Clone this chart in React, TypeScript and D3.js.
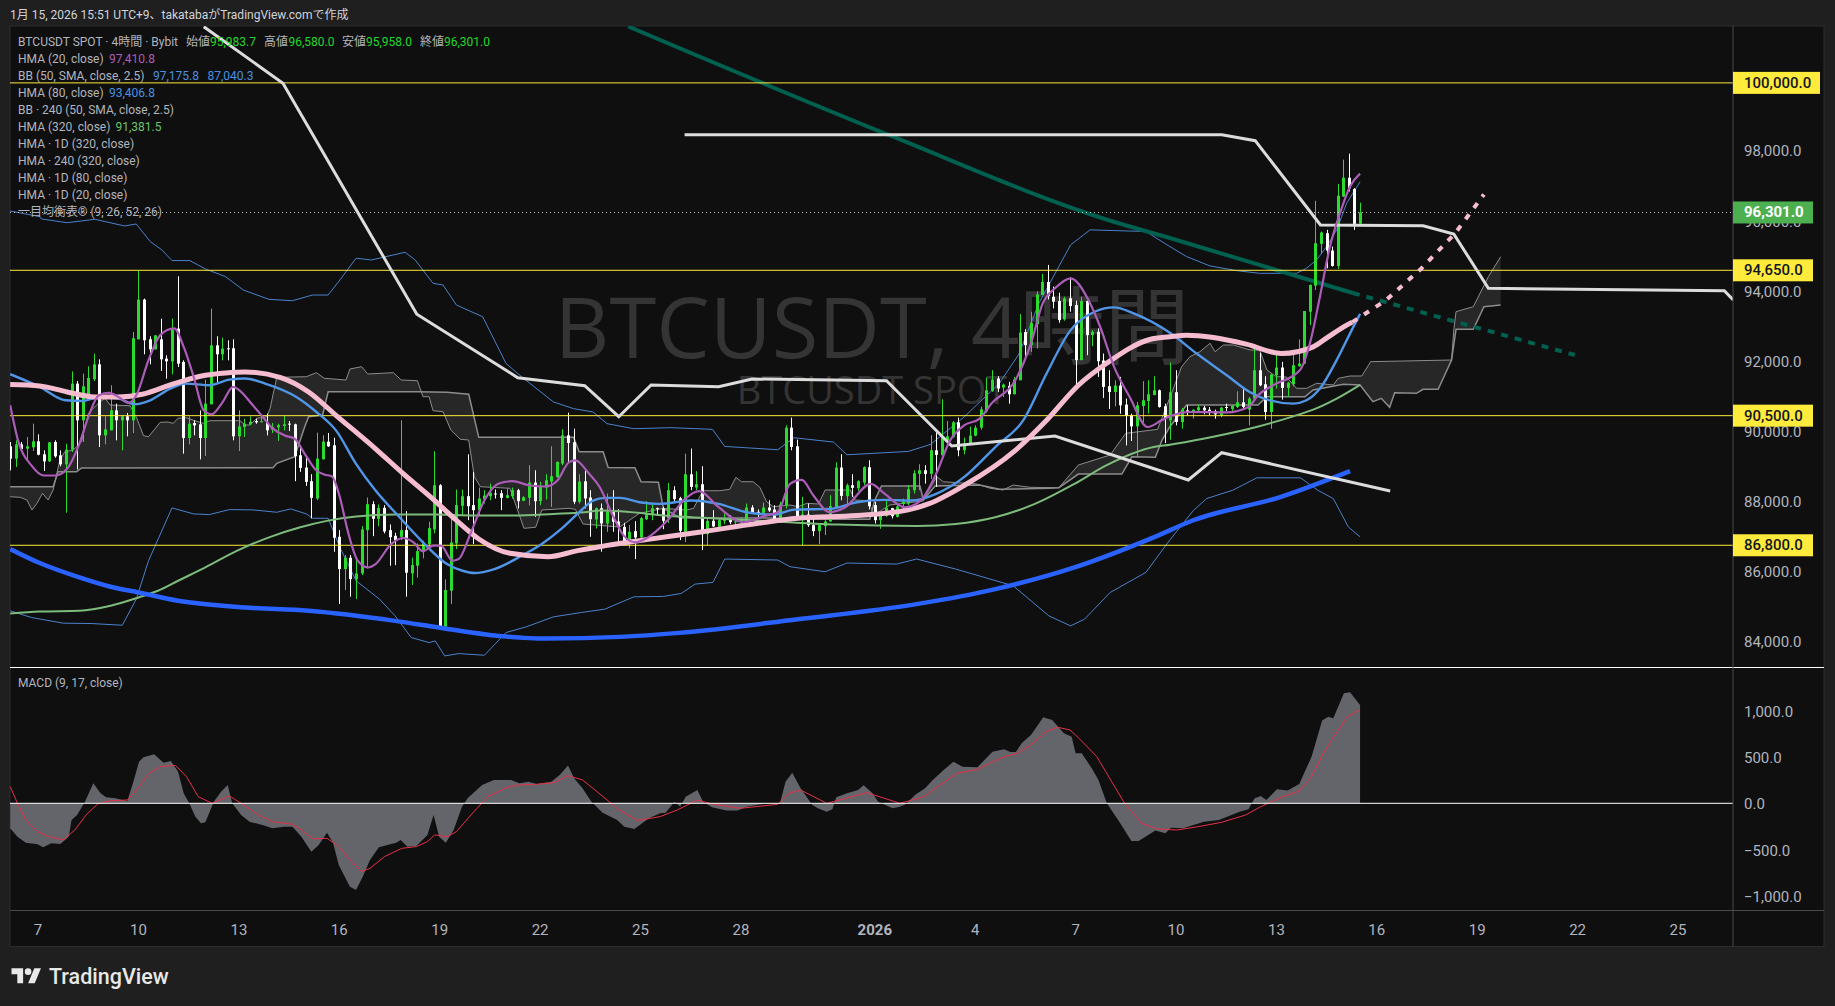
import React from 'react';
import * as d3 from 'd3';

type Pt = [number, number];

// 4h candles, Dec 6 2025 onwards: open, high, low, close
const candles: number[][] = [
  [89624,89748,88939,89272],[89272,89796,89034,89681],[89681,89748,89462,89548],[89558,89891,89224,89624],[89596,90272,89491,89767],
  [89767,89967,89367,89386],[89396,89510,88920,89196],[89196,89748,89177,89738],[89748,89796,89300,89339],[89367,89510,89053,89110],
  [89110,89700,87730,89529],[89529,91766,89462,91414],[91414,91490,88967,90367],[90367,91700,89748,91338],[91033,91909,90986,91576],
  [91538,92271,91490,91966],[91966,92109,89605,89938],[89938,90481,89681,90110],[90081,91366,90081,90652],[90652,90843,89796,90367],
  [90367,90481,89510,90481],[90481,90576,89910,90367],[90367,92890,90005,92709],[92680,94632,92680,93813],[93813,93842,92252,92652],
  [92680,92766,91966,92394],[92394,92794,92385,92794],[92680,93270,91776,92109],[92128,92223,91557,92052],[92052,93270,91680,92956],
  [92985,94479,91890,91985],[92033,92080,89415,89862],[89862,90481,89681,90272],[90291,90367,89938,90224],[90252,90652,89253,89862],
  [89862,91528,89348,90843],[90824,93556,90824,92509],[92509,92766,91461,92252],[92252,92728,92080,92414],[92423,92652,92080,92404],
  [92423,92680,89796,89910],[89910,90652,89491,90195],[90176,90414,89891,90272],[90252,90481,90224,90329],[90348,90414,90272,90310],
  [90319,90538,90319,90338],[90300,90557,89938,90081],[90101,90291,90006,90177],[90168,90272,89778,90225],[90206,90490,90082,90253],
  [90272,90348,90063,90244],[90253,90272,88629,89341],[89370,89655,88895,89009],[89018,89370,88495,88610],[88629,88828,87565,88154],
  [88135,90016,88087,89275],[89256,89940,89246,89759],[89759,90006,89607,89626],[89655,89873,86615,87014],[87042,87232,85123,86121],
  [86121,86520,85522,86444],[86444,86520,85332,85835],[85835,86472,85266,85997],[85997,87346,85950,87251],[87232,88163,86140,87973],
  [87973,88058,87061,87555],[87555,87964,87346,87869],[87869,87945,87137,87194],[87232,87394,86215,87032],[87070,87156,86234,86947],
  [87042,90367,86947,87232],[87232,87773,85332,86016],[85997,86444,85665,86235],[86216,86852,85874,86634],[86662,86928,86425,86852],
  [86833,87470,86662,87289],[87251,89484,87137,88514],[88514,88543,84477,84477],[84477,85826,84477,85522],[85503,87612,85123,86880],
  [86852,88391,86691,87945],[87925,88391,87660,88201],[88201,89398,87517,87916],[87945,88895,86833,87802],[87802,88448,87660,88135],
  [88116,88372,87992,88220],[88201,88562,88087,88296],[88277,88391,88135,88258],[88286,88372,87802,88154],[88154,88420,88135,88230],
  [88201,88448,88135,88372],[88372,88410,87850,88058],[88068,88201,88058,88173],[88154,89085,87940,88590],[88590,88942,87612,88058],
  [88058,88610,87945,88467],[88448,88828,88106,88657],[88619,89626,87897,88771],[88743,89198,88733,89179],[89132,90110,89085,89940],
  [89940,90585,89179,89721],[89740,90130,87973,88040],[88040,88828,87992,88619],[88629,88942,87850,88135],[88163,88372,87042,87545],
  [87536,87878,87279,87859],[87859,87992,86615,87422],[87422,88277,87185,87755],[87745,88372,87185,87470],[87479,87830,86852,87327],
  [87327,87441,86805,86900],[86852,87375,86710,87185],[87204,87489,86405,87023],[87023,87612,86900,87574],[87545,88058,87517,87688],
  [87660,87973,87517,87859],[87859,87878,87650,87840],[87850,87897,87260,87498],[87574,88581,87441,88372],[88372,88486,88021,88116],
  [88144,88182,86947,87213],[87185,89417,86890,88828],[88828,89560,88372,88467],[88448,88914,88372,88543],[88543,89056,86662,87118],
  [87118,87593,86805,87498],[87498,87802,87327,87337],[87327,87565,87251,87517],[87498,87707,87403,87517],[87545,87660,87403,87460],
  [87460,87498,87308,87479],[87479,87593,87460,87517],[87517,87992,87498,87878],[87878,87945,87707,87726],[87755,87821,87612,87726],
  [87726,88021,87707,87878],[87878,88087,87755,87793],[87821,87945,87470,87498],[87498,88040,87441,87964],[87945,90225,87850,90158],
  [90158,90443,89512,89607],[89626,89816,87546,87565],[87546,88182,86795,87679],[87679,87992,87327,87375],[87375,87593,87061,87204],
  [87204,87403,86833,87375],[87346,87631,87090,87479],[87479,88230,87470,87916],[87878,89170,87850,89018],[89018,89398,88087,88210],
  [88201,88562,87945,88514],[88514,88828,88182,88438],[88429,88657,88353,88629],[88590,89056,88514,89028],[89028,89227,87821,87916],
  [87945,88040,87422,87517],[87517,87707,87270,87660],[87640,88087,87612,87869],[87859,87869,87565,87631],[87612,87992,87593,87907],
  [87983,88135,87802,88040],[87992,88514,87945,88400],[88372,88942,88277,88856],[88838,89113,88372,88942],[88942,89085,88562,88838],
  [88838,89940,88695,89512],[89512,90025,88467,89379],[89370,90967,89370,89911],[89797,90348,89731,89911],[89893,90348,89873,90310],
  [90310,90443,89341,89512],[89512,89873,89398,89702],[89664,90187,89664,89930],[89930,90225,89911,90158],[90158,90757,90101,90682],
  [90624,91588,90586,91225],[91206,91797,91177,91530],[91559,91626,91177,91273],[91301,91416,91034,91387],[91349,91464,90843,91111],
  [91111,91607,91111,91530],[91511,93400,91511,92875],[92885,92971,92179,92513],[92513,93467,92322,93152],[93114,94049,92418,93963],
  [93944,94545,93944,94316],[94316,94803,93820,93915],[93896,94182,93562,93753],[93772,94011,93152,93228],[93248,93896,93209,93849],
  [93849,94450,93467,93629],[93658,93782,91320,92084],[92084,93896,92084,93772],[93772,93782,92227,92799],[92799,92942,92484,92895],
  [92895,92990,91607,92055],[92074,92274,91006,91320],[91340,91797,90691,91177],[91177,91511,90767,91359],[91359,91607,90557,90796],
  [90815,90987,89651,90490],[90510,90557,89775,90195],[90195,90891,89317,90796],[90777,91483,90319,90939],[90920,91511,90557,91111],
  [91091,91626,91082,91225],[91225,91244,90729,90748],[90767,90843,89718,90414],[90366,92017,89813,91168],[91168,91797,90223,90319],
  [90319,90719,90128,90672],[90653,90796,90510,90624],[90624,90672,90414,90672],[90653,90815,90634,90739],[90729,90777,90538,90653],
  [90672,90748,90510,90634],[90634,90672,90414,90538],[90510,90748,90462,90729],[90748,90843,90634,90719],[90691,90796,90634,90777],
  [90748,91196,90719,90882],[90882,91273,90672,90748],[90672,91034,90223,90987],[90987,92542,90939,91797],[91797,92294,91340,91368],
  [91397,91626,90385,90605],[90605,91702,90128,91673],[91654,92351,91273,91874],[91874,92036,90958,91292],[91292,91464,91034,91435],
  [91397,92274,91340,91941],[91912,92675,91893,91988],[91988,93486,91970,93486],[93467,94249,93085,94230],[94211,96634,94087,95423],
  [95404,95757,95136,95728],[95709,95804,94707,95213],[95213,95327,94755,94774],[94774,97111,94688,96777],[96758,97808,96739,97292],
  [97292,97979,96901,96987],[96968,96997,95804,95976],[95983.7,96580,95958,96301],
];

// indicator readings: [bar, value]
const hma20: Pt[] = [[0,90796],[1.4,89794],[3.8,89079],[6,88792],[8.1,88792],[10.2,88983],[12.4,89699],[14.1,90510],[15.9,91082],[17.7,91149],[19.4,91034],[21.2,90863],[22.6,91082],[24.8,92084],[26.9,92799],[29.4,92990],[31.1,92465],[32.9,91607],[34.7,90653],[36.1,90538],[37.9,90843],[40,91320],[41.1,91225],[43.5,90796],[45.3,90462],[47.1,90128],[49.2,89937],[51,89842],[52.8,89412],[54.9,88935],[56.3,88821],[57.7,88764],[59.1,88172],[60.5,87218],[62.3,86360],[64.1,86169],[65.5,86264],[68.3,86837],[70.5,87008],[72.3,86884],[74,86627],[75.8,86789],[77.2,86789],[79.3,86360],[80.4,86407],[82.5,87123],[85,88077],[87.5,88554],[90,88630],[93.2,88506],[96,88478],[98.1,88649],[100.2,89174],[101.3,89222],[103.8,88840],[105.7,88458],[107.9,87695],[110,87075],[112.1,86884],[113.9,86980],[117.8,87504],[121,88125],[123.5,88344],[127,87886],[131.3,87457],[135.5,87648],[137.6,87743],[139.8,88554],[141.9,88668],[144,88220],[146.9,87743],[149.7,87886],[154.3,88554],[156.8,88268],[160.3,87886],[163.2,88077],[166,88840],[168.5,89794],[171,90223],[173.8,90414],[175.9,90843],[180.2,91511],[183,92561],[185.1,93705],[187.3,94135],[190.1,94421],[193.3,93801],[195.4,93038],[197.9,91893],[200.7,91034],[203.9,90176],[206.4,90366],[207.9,90481],[211.5,90605],[218.1,90595],[222,90748],[223.7,91082],[226.4,91368],[231.2,91797],[233,92561],[234.8,93896],[236.6,95327],[238.4,96281],[240.2,97044],[242,97411]];
const hma80: Pt[] = [[0,91683],[5.3,91320],[9.9,90939],[13.1,90920],[15.9,91034],[19.4,90987],[22.3,90824],[25.1,90939],[28.7,91273],[31.5,91416],[35.7,91368],[39.3,91530],[42.1,91559],[45.7,91416],[51.3,91034],[54.9,90605],[58.4,90080],[62,89126],[65.5,88363],[69.8,87600],[74,86884],[78.3,86264],[81.1,86073],[83.2,86007],[86.8,86121],[91.7,86503],[95.3,86837],[98.8,87266],[101.7,87695],[104.5,88077],[106.6,88153],[109.3,88153],[112.8,88029],[116.4,87981],[122,88077],[127,87981],[132,87743],[136.9,87676],[140.5,87819],[146.9,87838],[151.8,88029],[156.8,88096],[161.7,88077],[166,88268],[171,88745],[176.6,89603],[181.6,90366],[185.8,91702],[190.1,92942],[194.4,93467],[197.9,93591],[201.4,93419],[207.9,92866],[212.7,92274],[218.1,91654],[222.2,91177],[225.8,90939],[230,90843],[232.4,90939],[234.8,91273],[237.8,92084],[240.5,92942],[242,93407]];
const hma320: Pt[] = [[0,84852],[5.3,84910],[12.4,84929],[18,85072],[23,85310],[26.5,85501],[30.1,85787],[35,86169],[40.7,86646],[46.4,87027],[52,87314],[57,87504],[62,87619],[69,87676],[76.1,87676],[83.2,87648],[90.3,87648],[97.4,87695],[103,87743],[105.7,87791],[119.9,87619],[134.1,87504],[148.3,87390],[162.5,87352],[169.5,87409],[176.6,87600],[183.7,87981],[190.8,88554],[196.5,89079],[205,89603],[207.9,89670],[213.9,89842],[223.4,90176],[230,90481],[233.6,90672],[237.8,90987],[242,91381.5]];
const hmaPink: Pt[] = [[0,91387],[5.3,91349],[10.2,91177],[15.2,91034],[19.4,91034],[23.7,91111],[29.4,91416],[35,91654],[38.6,91721],[42.1,91750],[48.5,91588],[53.5,91177],[58.4,90510],[65.5,89555],[70.5,88840],[76.1,88077],[79.7,87552],[84,86980],[89.6,86570],[96.4,86474],[101.7,86646],[105.7,86760],[112.8,86932],[123.5,87171],[134.1,87428],[141.2,87571],[151.8,87648],[161,87810],[164.6,87981],[171,88506],[180.2,89508],[185.8,90366],[191.5,91368],[196.5,91988],[204.3,92675],[207.9,92751],[210.9,92799],[215.7,92732],[221.6,92542],[227.9,92274],[233.6,92465],[236.3,92751],[239.6,93085],[240.6,93170]];
const hmaPinkProjected: Pt[] = [[240.6,93170],[246.6,93791],[252.9,94688],[259.1,95718],[264.2,96815]];
const hmaRoyal: Pt[] = [[0,86694],[5.3,86293],[12.4,85883],[18,85616],[23,85453],[30.1,85215],[42.1,85024],[53.5,84929],[69,84642],[77.6,84433],[88.9,84194],[96,84137],[109.3,84185],[119.9,84299],[141.2,84690],[162.5,85120],[176.6,85549],[190.8,86169],[205,87027],[212.1,87514],[227.8,88182],[240.2,88916]];
const hmaTeal: Pt[] = [[110.8,101610],[157.5,98513],[196.8,96086],[207.9,95572],[240.7,94002]];
const hmaTealProjected: Pt[] = [[240.7,94002],[280.5,92232]];
const dailyHmaA: Pt[] = [[34.7,101605],[48.9,99989],[72.9,93394],[91,91584],[103,91355],[109.1,90470],[114.9,91375],[127,91327],[133,91547],[157.1,91498],[168.8,89634],[187.3,89919],[211.2,88663],[217.2,89443],[247.4,88349]];
const dailyHmaB: Pt[] = [[120.9,98521],[217.2,98521],[223.2,98350],[234.9,95943],[253.3,95923],[258.8,95686],[265,94136],[307.3,94068],[308.9,93802]];
const bbUpper: Pt[] = [[0,96343],[5.3,96180],[5.6,96115],[10.2,96009],[15.2,96106],[20.5,95915],[22.6,95972],[25.1,95470],[27.2,95232],[29,94927],[32.2,94927],[35,94688],[38.6,94469],[41.8,94087],[46.4,93820],[50.6,93782],[54.2,93944],[57,93944],[59.1,94373],[62,94993],[64.8,94946],[70.8,95165],[72.6,94946],[75.8,94278],[77.6,94230],[80,93658],[84.7,93324],[88.9,91988],[91.7,91607],[97.4,90891],[101,90700],[104.5,90605],[107,90271],[111.8,90128],[118.5,90157],[125.9,90109],[128.1,89622],[137.6,89527],[140.5,89870],[147.6,89746],[150,89384],[161,89479],[165,89680],[171,90462],[177.3,91416],[180.9,92274],[184.4,93705],[190.1,95375],[193.6,95804],[203.6,95757],[207.9,95327],[210.9,95041],[215.1,94774],[219.9,94640],[224,94564],[230.6,94564],[232.4,94707],[234.2,94946],[236,95327],[237.8,95804],[239.6,96567],[242,97176]];
const bbLower: Pt[] = [[0,84929],[3.8,84738],[9.5,84576],[14.5,84566],[20.1,84518],[22.6,85263],[24.8,86360],[29,87867],[32.9,87695],[35.7,87676],[39.3,87819],[43.5,87810],[47.8,87743],[50.3,87838],[53.1,87695],[54.2,87571],[57,87571],[59.1,86741],[62,85787],[66.2,85263],[69,84786],[71.9,84166],[75.1,84022],[76.2,84070],[77.9,83641],[80.4,83708],[85,83660],[88.9,84309],[92.5,84471],[97.4,84757],[102.4,84881],[106.6,84976],[111.8,85329],[117.1,85339],[120.3,85425],[122.8,85692],[126,85740],[128.1,86407],[137.6,86379],[139.8,86188],[146.1,86045],[150,86293],[158.9,86264],[162.5,86407],[169.5,86121],[179.8,85644],[186.2,84786],[190.1,84499],[192.6,84690],[197.2,85453],[203.6,86026],[207.8,86932],[212.1,87791],[214.5,88134],[219.2,88373],[223.5,88726],[231.3,88726],[234.4,88373],[237.2,88134],[239.9,87323],[242,87040]];

// ichimoku cloud edges
const spanA: Pt[] = [[0,88186],[1.8,88169],[3,88092],[3.9,87807],[4.8,87998],[5.8,88283],[6.8,88092],[7.7,88378],[8.9,89234],[9.8,89471],[11.3,89520],[12.8,89757],[14,90567],[15.8,90853],[17,90996],[17.9,90804],[21.5,90784],[22.7,90425],[23.9,89928],[24.8,89899],[26.9,90310],[28.3,90319],[29.2,90282],[30.1,90425],[31.6,90442],[33.1,90356],[34.6,90282],[35.8,90356],[41.2,90356],[42.1,90234],[43,90234],[44.2,90425],[46,90470],[46.6,90710],[47.1,91090],[47.8,91595],[53.1,91612],[54.9,91727],[56.3,91567],[60.2,91518],[60.9,91832],[63,91898],[64.1,91689],[68.7,91727],[70.1,91518],[73,91498],[74,91041],[75.1,91041],[75.8,90642],[77.6,90613],[79,90090],[80.7,89825],[82.2,89805],[83.2,88757],[84.3,88472],[89.6,88426],[92.1,87284],[94.2,87313],[95.3,87807],[100.2,87855],[101.3,87827],[102.7,87407],[109.3,87321],[112.8,87712],[115.7,87807],[117.1,87855],[121.3,87807],[122.5,87855],[124.2,88358],[127.2,88358],[129,88398],[130.1,88740],[131.1,88614],[133.2,88614],[134.4,88454],[135.6,88043],[136.8,87901],[139.8,87949],[141.3,87901],[142.8,87998],[144.9,87978],[146.1,88378],[150.6,88378],[151.4,88092],[153.8,88072],[154.9,87664],[157.7,87950],[163.6,88064],[166.1,88757],[167.3,88614],[173.3,88549],[175.7,88426],[178,88378],[179.8,88520],[182.8,88455],[188,88443],[191.5,89091],[197.2,89377],[200,89996],[205.7,90110],[208.2,91138],[210,91898],[211.5,92183],[213.3,92326],[215.1,92566],[216,92326],[217.5,92517],[219.3,92517],[222.3,92374],[224,92374],[225.3,91804],[227,91612],[228.8,91604],[230.6,91281],[232.4,91281],[234.2,91424],[237.2,91375],[238.1,91567],[240.2,91632],[242.3,91632],[243.9,92041],[258.4,92089],[258.8,92945],[259.2,93468],[262.3,93611],[265,94467],[267.2,95038]];
const spanB: Pt[] = [[0,88472],[7.7,88472],[8.6,88900],[11.9,88900],[12.8,89006],[47.1,89014],[47.8,89140],[51,89328],[52.8,90185],[53.5,90470],[56,90519],[57,91184],[73.3,91184],[78.3,91167],[82.2,91110],[84,89882],[101,89882],[102,89471],[106.3,89471],[107.2,89020],[112,89014],[113.1,88614],[116.2,88597],[117.1,87855],[120.1,87578],[136.2,87578],[143.1,87541],[154.1,87541],[155,88092],[156.2,88492],[163.1,88492],[163.7,88092],[165.8,88492],[173.8,88520],[177.4,88398],[186.4,88426],[188,88443],[191.5,88834],[199.3,88834],[201.1,89328],[205.3,89311],[206.5,89805],[207.9,90185],[210.9,90804],[223.7,90804],[225.3,91041],[232.1,91041],[233.6,91233],[239,91395],[242,91375],[244.3,90899],[245.8,90996],[247.3,90739],[248.2,91155],[252.1,91139],[253.3,91253],[256,91253],[258.4,92089],[259.2,92966],[262.3,92966],[264.2,93611],[267.2,93659]];

const macdArea: Pt[] = [[0,-270],[1.3,-360],[2.8,-425],[4.9,-443],[5.9,-475],[7.4,-432],[9,-439],[10.5,-360],[11,-180],[12,-126],[13.4,18],[14.9,216],[16.2,108],[17.2,65],[18.8,54],[21,25],[22,216],[23.1,450],[23.9,497],[25.8,529],[27.5,439],[28.8,457],[30.1,342],[31.1,108],[32.1,0],[33.2,-144],[34.2,-216],[35,-205],[36.5,18],[37.8,126],[39,198],[39.8,0],[41.4,-126],[42.9,-198],[45.5,-241],[47,-270],[49.1,-252],[50.6,-252],[52.2,-360],[54,-522],[55.3,-450],[56.8,-317],[57.9,-432],[58.9,-666],[60.9,-900],[62,-936],[63.2,-792],[64.5,-612],[66.1,-475],[69.2,-425],[70,-396],[71.2,-468],[72.8,-461],[74.8,-342],[75.9,-126],[76.9,-360],[78.1,-425],[79.5,-288],[81,-36],[82,54],[84.6,198],[86.7,252],[89.8,252],[91.3,216],[92.9,234],[94.4,209],[97,234],[98.5,306],[100,407],[101.1,270],[102.6,162],[104.2,18],[106.2,-101],[108.8,-180],[110.1,-252],[111.9,-277],[114.5,-162],[116.5,-108],[117.5,-101],[119.1,18],[120.1,-36],[121.1,72],[123.2,144],[124.2,18],[125.8,-43],[128.4,-79],[130.4,-79],[132,-36],[135,-7],[138,0],[139,234],[140.2,331],[141.7,162],[143.8,-18],[144.8,-54],[146.4,-90],[147.4,-65],[148.1,65],[150,108],[152,144],[153,194],[154.6,108],[155.6,18],[158.2,-54],[159.5,-36],[160.6,-7],[162.2,90],[164,162],[165.4,252],[167,342],[169.1,450],[170.7,396],[173.4,389],[176.1,558],[178.2,583],[179.3,554],[180.3,554],[181.4,655],[183,738],[185.2,929],[186.8,900],[188.9,756],[190.3,720],[191,540],[192.1,540],[193.9,378],[195.1,252],[196.6,0],[199,-216],[201,-407],[202.3,-407],[205.3,-295],[207.1,-324],[208.1,-263],[210.3,-270],[214,-198],[216.7,-180],[220.4,-90],[222,-65],[223.1,54],[224.2,79],[225.2,36],[227.1,151],[229,137],[231.1,209],[233.3,504],[235.2,893],[236.3,936],[237.2,918],[239.1,1188],[240.2,1199],[242,1062]];
const macdSignal: Pt[] = [[0,180],[1.3,0],[2.8,-180],[4.9,-306],[6.9,-360],[9.5,-396],[11.6,-288],[13.6,-126],[15.7,-7],[17.7,25],[21,36],[22.9,162],[24.9,324],[27,396],[29.6,410],[31.6,288],[33.7,72],[36.2,0],[39.3,79],[41.4,0],[44.5,-126],[47,-198],[50.6,-227],[52.2,-288],[54.3,-385],[56.8,-378],[58.9,-468],[60.9,-612],[63,-738],[64.5,-702],[67.1,-576],[70.2,-486],[72.8,-468],[74.8,-414],[76.1,-342],[78.4,-360],[80,-306],[82.6,-126],[85.6,72],[88.7,162],[90.8,198],[94.4,205],[97.5,223],[100,299],[102.6,252],[105.2,126],[108.8,-54],[112.4,-187],[116.5,-144],[119.6,-72],[123.2,36],[125.8,-7],[130.9,-54],[137.6,-11],[139.7,108],[141.7,144],[146.4,0],[153.6,115],[159.5,0],[163.8,72],[169.7,324],[173.4,367],[178.2,504],[180.3,533],[183,630],[185.7,774],[187.8,821],[190,792],[191.6,702],[194.8,504],[199.6,18],[202.8,-216],[205.5,-277],[209.2,-288],[213,-252],[217.2,-205],[221.5,-126],[224.2,-36],[227.9,65],[231.1,133],[233.3,288],[235.4,540],[237.5,738],[239.7,936],[242,1008]];

const priceTicks = [98000, 96000, 94000, 92000, 90000, 88000, 86000, 84000];
const levelLines = [100000, 94650, 90500, 86800];
const lastPrice = 96301;
const macdTicks = [1000, 500, 0, -500, -1000];
const timeBars = [5, 23, 41, 59, 77, 95, 113, 131, 155, 173, 191, 209, 227, 245, 263, 281, 299];
const timeLabels = ['7', '10', '13', '16', '19', '22', '25', '28', '2026', '4', '7', '10', '13', '16', '19', '22', '25'];

const FONT = 'Roboto, "Noto Sans CJK JP", sans-serif';
const LEFT = 10;
const AXIS_X = 1733;
const RIGHT = 1824;
const TOP = 26;
const PANE_BOTTOM = 667.5;
const TIME_TOP = 910.5;
const BOTTOM = 946.5;
const GREY = '#b2b5be';
const UP = '#2bdc2f';
const LEGEND_GREEN = '#22d82a';
const fmt = d3.format(',.1f');

const x = d3.scaleLinear().domain([0, 309]).range([10.2, 10.2 + 309 * 5.578]);
const y = d3.scaleLinear().domain([83325, 101624]).range([667, TOP]);
const yMacd = d3.scaleLinear().domain([-1000, 1000]).range([895.9, 710.7]);

const priceLine = d3.line<Pt>().x((d) => x(d[0])).y((d) => y(d[1]));
const smoothLine = d3.line<Pt>().x((d) => x(d[0])).y((d) => y(d[1])).curve(d3.curveMonotoneX);
const macdLine = d3.line<Pt>().x((d) => x(d[0])).y((d) => yMacd(d[1]));
const macdFill = d3.area<Pt>().x((d) => x(d[0])).y0(yMacd(0)).y1((d) => yMacd(d[1]));

// both cloud edges on one bar grid so the band can be filled
const cloudA = d3.scaleLinear().domain(spanA.map((d) => d[0])).range(spanA.map((d) => d[1]));
const cloudB = d3.scaleLinear().domain(spanB.map((d) => d[0])).range(spanB.map((d) => d[1]));
const cloudBars = Array.from(new Set([...spanA, ...spanB].map((d) => d[0]))).sort(d3.ascending);
const cloudPath = d3.area<number>().x((d) => x(d)).y0((d) => y(cloudA(d))).y1((d) => y(cloudB(d)))(cloudBars) as string;

const legendRows = [
  'HMA (20, close)',
  'BB (50, SMA, close, 2.5)',
  'HMA (80, close)',
  'BB · 240 (50, SMA, close, 2.5)',
  'HMA (320, close)',
  'HMA · 1D (320, close)',
  'HMA · 240 (320, close)',
  'HMA · 1D (80, close)',
  'HMA · 1D (20, close)',
  '一目均衡表® (9, 26, 52, 26)',
];
const legendValues: { row: number; x: number; text: string; color: string }[] = [
  { row: 0, x: 109, text: '97,410.8', color: '#ab5db8' },
  { row: 1, x: 153, text: '97,175.8', color: '#4a8fe0' },
  { row: 1, x: 207.5, text: '87,040.3', color: '#4a8fe0' },
  { row: 2, x: 109, text: '93,406.8', color: '#4a8fe0' },
  { row: 4, x: 115.5, text: '91,381.5', color: '#6fc06f' },
];
const ohlcLabels = [
  { x: 186, name: '始値', value: '95,983.7', valueX: 210 },
  { x: 264, name: '高値', value: '96,580.0', valueX: 288.5 },
  { x: 342, name: '安値', value: '95,958.0', valueX: 366 },
  { x: 420, name: '終値', value: '96,301.0', valueX: 444 },
];

const Candles: React.FC = () => (
  <g>
    {candles.map(([o, h, l, c], i) => {
      const color = c >= o ? UP : '#ffffff';
      const top = y(Math.max(o, c));
      const height = Math.max(1, y(Math.min(o, c)) - top);
      const cx = Math.round(x(i));
      return (
        <g key={i}>
          <line x1={cx + 0.5} x2={cx + 0.5} y1={y(h)} y2={y(l)} stroke={color} strokeWidth={1} />
          <rect x={cx - 1} y={top} width={3} height={height} fill={color} />
        </g>
      );
    })}
  </g>
);

const PriceTag: React.FC<{ value: number; fill: string; color: string }> = ({ value, fill, color }) => (
  <g>
    <rect x={AXIS_X} y={y(value) - 11} width={value >= 100000 ? 87 : 80} height={22} fill={fill} />
    <text x={1744} y={y(value) + 5} fontSize={15} fill={color} fontWeight={value === lastPrice ? 700 : 500}>
      {fmt(value)}
    </text>
  </g>
);

const App: React.FC = () => (
  <svg
    width={1835}
    height={1006}
    style={{ position: 'fixed', left: 0, top: 0, display: 'block', background: '#1f1f1f' }}
    fontFamily={FONT}
  >
    <defs>
      <clipPath id="pane">
        <rect x={LEFT} y={TOP} width={AXIS_X - LEFT} height={PANE_BOTTOM - TOP} />
      </clipPath>
    </defs>

    <text x={10} y={19} fontSize={12} fill="#d1d4dc">
      1月 15, 2026 15:51 UTC+9、takatabaがTradingView.comで作成
    </text>

    <rect x={LEFT} y={TOP} width={RIGHT - LEFT} height={BOTTOM - TOP} fill="#0f0f0f" stroke="#2c2c2c" />

    <g clipPath="url(#pane)">
      <text x={872} y={358} fontSize={85} fill="#343434" textAnchor="middle" fontFamily={'"Open Sans", "Noto Sans CJK JP", sans-serif'}>
        BTCUSDT, 4時間
      </text>
      <text x={872} y={404} fontSize={38} fill="#343434" textAnchor="middle" fontFamily={'"Open Sans", sans-serif'}>
        BTCUSDT SPOT
      </text>

      <path d={priceLine(bbUpper) as string} fill="none" stroke="#4a82cc" strokeWidth={1} />
      <path d={priceLine(bbLower) as string} fill="none" stroke="#4a82cc" strokeWidth={1} />

      <path d={cloudPath} fill="#ffffff" fillOpacity={0.1} />
      <path d={priceLine(spanA) as string} fill="none" stroke="#8c8c8c" strokeWidth={1} />
      <path d={priceLine(spanB) as string} fill="none" stroke="#8c8c8c" strokeWidth={1.5} />

      <path d={smoothLine(hmaTeal) as string} fill="none" stroke="#00604f" strokeWidth={4} />
      <path d={priceLine(hmaTealProjected) as string} fill="none" stroke="#00604f" strokeWidth={4} strokeDasharray="7 7" />

      <Candles />

      {levelLines.map((d) => (
        <line key={d} x1={LEFT} x2={AXIS_X} y1={y(d)} y2={y(d)} stroke="#ffeb3b" strokeWidth={1} />
      ))}
      <line x1={LEFT} x2={AXIS_X} y1={y(lastPrice)} y2={y(lastPrice)} stroke="#c8c8c8" strokeWidth={1} strokeDasharray="1 3" />

      <path d={smoothLine(hma320) as string} fill="none" stroke="#7cbb7c" strokeWidth={2} />
      <path d={smoothLine(hmaRoyal) as string} fill="none" stroke="#2962ff" strokeWidth={4.5} />
      <path d={smoothLine(hma80) as string} fill="none" stroke="#5096e8" strokeWidth={2.4} />
      <path d={priceLine(dailyHmaA) as string} fill="none" stroke="#dcdcdc" strokeWidth={3} />
      <path d={priceLine(dailyHmaB) as string} fill="none" stroke="#dcdcdc" strokeWidth={3} />
      <path d={smoothLine(hmaPink) as string} fill="none" stroke="#f6bcd0" strokeWidth={5} />
      <path d={priceLine(hmaPinkProjected) as string} fill="none" stroke="#f6bcd0" strokeWidth={4} strokeDasharray="6 8" />
      <path d={smoothLine(hma20) as string} fill="none" stroke="#ab5db8" strokeWidth={2.2} />
    </g>

    {/* legend */}
    <g fontSize={12} fill={GREY}>
      <text x={18} y={46}>BTCUSDT SPOT · 4時間 · Bybit</text>
      {ohlcLabels.map((d) => (
        <g key={d.name}>
          <text x={d.x} y={46}>{d.name}</text>
          <text x={d.valueX} y={46} fill={LEGEND_GREEN}>{d.value}</text>
        </g>
      ))}
      {legendRows.map((d, i) => (
        <text key={d} x={18} y={63 + i * 17}>{d}</text>
      ))}
      {legendValues.map((d) => (
        <text key={d.text} x={d.x} y={63 + d.row * 17} fill={d.color}>{d.text}</text>
      ))}
    </g>

    {/* macd pane */}
    <path d={macdFill(macdArea) as string} fill="#63656a" />
    <path d={macdLine(macdSignal) as string} fill="none" stroke="#e8304a" strokeWidth={1} />
    <line x1={LEFT} x2={AXIS_X} y1={yMacd(0)} y2={yMacd(0)} stroke="#ffffff" strokeWidth={1} />
    <text x={18} y={687} fontSize={12} fill={GREY}>MACD (9, 17, close)</text>

    {/* axes */}
    <line x1={LEFT} x2={RIGHT} y1={PANE_BOTTOM} y2={PANE_BOTTOM} stroke="#ffffff" strokeWidth={1} />
    <line x1={LEFT} x2={RIGHT} y1={TIME_TOP} y2={TIME_TOP} stroke="#4a4a4a" strokeWidth={1} />
    <line x1={AXIS_X} x2={AXIS_X} y1={TOP} y2={BOTTOM} stroke="#4a4a4a" strokeWidth={1} />

    <g fontSize={15} fill={GREY}>
      {priceTicks.map((d) => (
        <text key={d} x={1744} y={y(d) + 3.5}>{fmt(d)}</text>
      ))}
      {macdTicks.map((d) => (
        <text key={d} x={1744} y={yMacd(d) + 6}>{fmt(d).replace('-', '−')}</text>
      ))}
      {timeBars.map((d, i) => (
        <text key={d} x={x(d)} y={934.5} textAnchor="middle" fontWeight={timeLabels[i] === '2026' ? 700 : 400}>
          {timeLabels[i]}
        </text>
      ))}
    </g>

    {levelLines.map((d) => (
      <PriceTag key={d} value={d} fill="#ffeb3b" color="#131722" />
    ))}
    <PriceTag value={lastPrice} fill="#4caf50" color="#ffffff" />

    {/* logo */}
    <g fill="#e8e8e8" transform="translate(11.5 965) scale(0.83)">
      <path d="M14 22H7V11H0V4h14v18ZM28 22h-8l7.5-18h8L28 22Z" />
      <circle cx={20} cy={8} r={4} />
    </g>
    <text x={49} y={984} fontSize={21.5} fontWeight={500} fill="#e8e8e8">TradingView</text>
  </svg>
);

export default App;
